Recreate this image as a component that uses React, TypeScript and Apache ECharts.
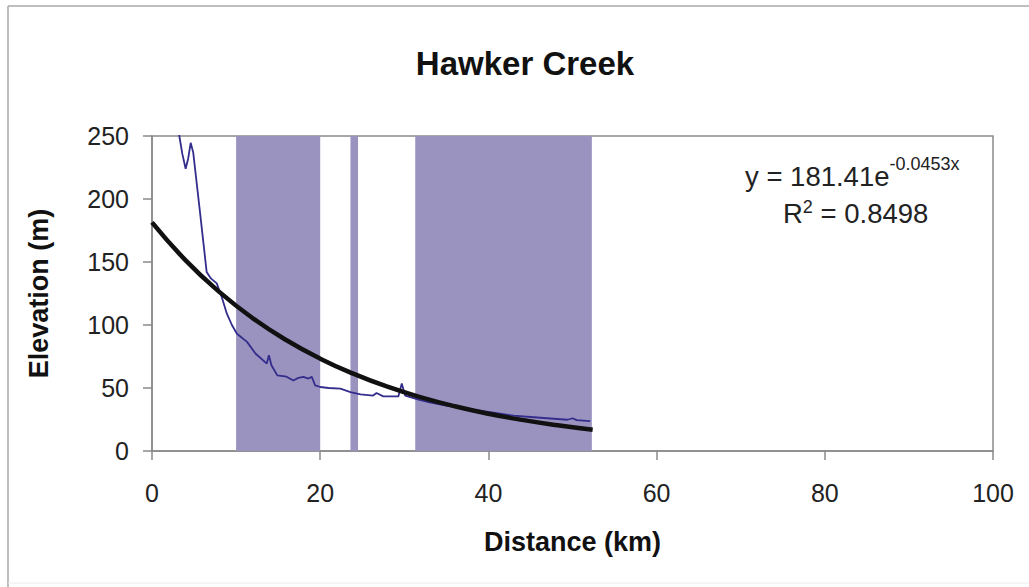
import React, { useEffect, useRef } from "react";
import * as echarts from "echarts";

// Observed stream profile (km, elevation m)
const profileKm = [3.0, 3.25, 3.6, 4.0, 4.3, 4.6, 4.9, 5.7, 6.5, 7.0, 7.7, 8.3, 8.9, 9.5, 10.1, 11.3, 12.3, 13.65, 13.9, 14.2, 14.9, 16.0, 16.8, 17.4, 18.0, 18.6, 19.0, 19.4, 20.0, 21.0, 22.4, 23.6, 24.8, 26.3, 26.7, 27.5, 29.3, 29.7, 30.1, 30.7, 31.7, 33.0, 35.0, 37.0, 39.0, 41.0, 43.0, 45.0, 47.0, 49.4, 50.0, 50.5, 52.1];
const profileElev = [262, 250, 236, 224, 232, 244.6, 237, 190, 142, 137, 133, 122, 109, 100, 93, 86.6, 77.4, 69.4, 76, 68, 60, 59, 56, 58, 58.8, 57.5, 58.8, 52, 50.8, 50, 49.5, 46.8, 45, 44, 46, 43.4, 43.4, 53.5, 44, 42.8, 40.8, 38.5, 36, 34, 32, 30, 28, 27, 26, 24.8, 26, 24.5, 23.7];

// Exponential trendline values (km, elevation m)
const trendKm = [0, 4, 8, 12, 16, 20, 24, 28, 32, 36, 40, 44, 48, 52.4];
const trendElev = [181.4, 151.3, 126.3, 105.3, 87.9, 73.3, 61.2, 51.0, 42.6, 35.5, 29.6, 24.7, 20.6, 16.9];

// Shaded reaches (km)
const bandStarts = [10, 23.6, 31.3];
const bandEnds = [20, 24.5, 52.3];

const xTicks = [0, 20, 40, 60, 80, 100];
const yTicks = [0, 50, 100, 150, 200, 250];

const titleText = "Hawker Creek";
const xName = "Distance (km)";
const yName = "Elevation (m)";
const eqMain = "y = 181.41e";
const eqExp = "-0.0453x";
const r2Main = "R";
const r2Exp = "2";
const r2Rest = " = 0.8498";

const FONT = "'Liberation Sans', Arial, sans-serif";

export default function App() {
  const ref = useRef<HTMLDivElement>(null);
  useEffect(() => {
    if (!ref.current) return;
    const chart = echarts.init(ref.current, null, { renderer: "svg" });
    const profile = profileKm.map((k, i) => [k, profileElev[i]]);
    const trend = trendKm.map((k, i) => [k, trendElev[i]]);
    const bands = bandStarts.map((s, i) => [{ xAxis: s }, { xAxis: bandEnds[i] }]);
    chart.setOption({
      animation: false,
      backgroundColor: "#ffffff",
      textStyle: { fontFamily: FONT },
      grid: {
        left: 152,
        right: 36,
        top: 136,
        bottom: 136,
        show: true,
        borderColor: "#8a8a8a",
        borderWidth: 1.5,
        backgroundColor: "transparent",
      },
      xAxis: {
        type: "value",
        min: xTicks[0],
        max: xTicks[xTicks.length - 1],
        interval: 20,
        name: xName,
        nameLocation: "middle",
        nameGap: 77,
        nameTextStyle: { fontSize: 27, fontWeight: "bold", color: "#111", fontFamily: FONT },
        axisLine: { show: true, lineStyle: { color: "#8a8a8a", width: 1.5 } },
        axisTick: { show: true, inside: false, length: 9, lineStyle: { color: "#8a8a8a", width: 1.5 } },
        axisLabel: { fontSize: 25, color: "#222", margin: 29, fontFamily: FONT },
        splitLine: { show: false },
      },
      yAxis: {
        type: "value",
        min: yTicks[0],
        max: yTicks[yTicks.length - 1],
        interval: 50,
        name: yName,
        nameLocation: "middle",
        nameGap: 100,
        nameRotate: 90,
        nameTextStyle: { fontSize: 27, fontWeight: "bold", color: "#111", fontFamily: FONT },
        axisLine: { show: true, lineStyle: { color: "#8a8a8a", width: 1.5 } },
        axisTick: { show: true, inside: false, length: 9, lineStyle: { color: "#8a8a8a", width: 1.5 } },
        axisLabel: { fontSize: 25, color: "#222", margin: 23, fontFamily: FONT },
        splitLine: { show: false },
      },
      series: [
        {
          type: "line",
          data: [],
          silent: true,
          markArea: {
            silent: true,
            itemStyle: { color: "#9a92bf", opacity: 1 },
            data: bands,
          },
          z: 1,
        },
        {
          type: "line",
          data: profile,
          showSymbol: false,
          symbol: "none",
          clip: true,
          lineStyle: { color: "#332d8c", width: 1.8 },
          z: 3,
        },
        {
          type: "line",
          data: trend,
          showSymbol: false,
          symbol: "none",
          smooth: true,
          lineStyle: { color: "#111111", width: 4.5 },
          z: 4,
        },
      ],
      graphic: [
        { type: "line", shape: { x1: 8, y1: 6, x2: 1029, y2: 6 }, style: { stroke: "#a8a8a8", lineWidth: 1.5 } },
        { type: "line", shape: { x1: 8, y1: 6, x2: 8, y2: 587 }, style: { stroke: "#a8a8a8", lineWidth: 1.5 } },
        { type: "line", shape: { x1: 8, y1: 583, x2: 1029, y2: 583 }, style: { stroke: "#ececec", lineWidth: 1 } },
        {
          type: "text",
          x: 525,
          y: 63,
          style: {
            text: titleText,
            fontSize: 33,
            fontWeight: "bold",
            fontFamily: FONT,
            fill: "#111",
            align: "center",
            verticalAlign: "middle",
          },
        },
        {
          type: "text",
          x: 745,
          y: 155,
          style: {
            text: `{a|${eqMain}}{s|${eqExp}}`,
            verticalAlign: "top",
            align: "left",
            rich: {
              a: { fontSize: 27.5, fontFamily: FONT, fill: "#222", lineHeight: 35, verticalAlign: "bottom" },
              s: { fontSize: 18, fontFamily: FONT, fill: "#222", lineHeight: 18, verticalAlign: "top" },
            },
          },
        },
        {
          type: "text",
          x: 783,
          y: 198,
          style: {
            text: `{a|${r2Main}}{s|${r2Exp}}{a|${r2Rest}}`,
            verticalAlign: "top",
            align: "left",
            rich: {
              a: { fontSize: 27.5, fontFamily: FONT, fill: "#222", lineHeight: 29, verticalAlign: "bottom" },
              s: { fontSize: 18, fontFamily: FONT, fill: "#222", lineHeight: 18, verticalAlign: "top" },
            },
          },
        },
      ],
    });
    return () => chart.dispose();
  }, []);
  return (
    <div
      ref={ref}
      style={{ position: "fixed", left: 0, top: 0, width: 1029, height: 587, background: "#fff" }}
    />
  );
}
